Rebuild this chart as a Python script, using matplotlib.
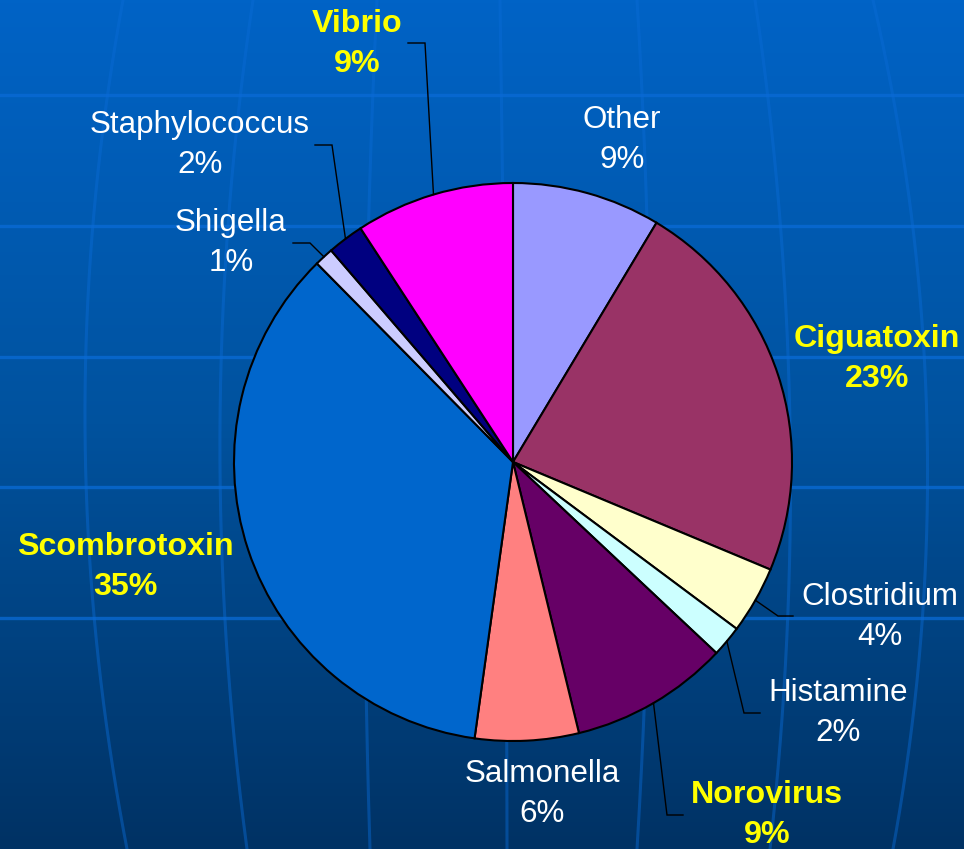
import numpy as np
import matplotlib
matplotlib.use("Agg")
import matplotlib.pyplot as plt
from matplotlib.colors import LinearSegmentedColormap

# ---- data ----
categories = ["Other", "Ciguatoxin", "Clostridium", "Histamine", "Norovirus",
              "Salmonella", "Scombrotoxin", "Shigella", "Staphylococcus", "Vibrio"]
share = [8.6, 22.7, 3.9, 1.8, 9.2, 6.0, 35.4, 1.1, 2.1, 9.2]
colors = ["#9999FF", "#993366", "#FFFFCC", "#CCFFFF", "#660066",
          "#FF8080", "#0066CC", "#CCCCFF", "#000080", "#FF00FF"]
highlight = [False, True, False, False, True, False, True, False, False, True]

# ---- layout (pixel coordinates, y downward) ----
W, H = 964, 849
cx, cy, R = 513, 462, 279
label_pos = {
    "Other": (622, 140), "Ciguatoxin": (877, 359), "Clostridium": (880, 617),
    "Histamine": (838, 713), "Norovirus": (767, 815), "Salmonella": (542, 794),
    "Scombrotoxin": (125, 567), "Shigella": (231, 243),
    "Staphylococcus": (200, 145), "Vibrio": (357, 44),
}
# leader: (text-side point, elbow point); end point is on the wedge edge
leaders = {
    "Vibrio": ((408, 43), (425, 43)),
    "Staphylococcus": ((315, 145), (332, 145)),
    "Shigella": ((293, 243), (310, 243)),
    "Clostridium": ((793, 616), (778, 616)),
    "Histamine": ((760, 713), (744, 713)),
    "Norovirus": ((683, 815), (667, 815)),
}

fig = plt.figure(figsize=(W / 100, H / 100), dpi=100)
ax = fig.add_axes([0, 0, 1, 1])

def fy(y):
    return H - np.asarray(y)

# background gradient (light at top, dark at bottom)
cmap = LinearSegmentedColormap.from_list("bg", ["#0063C6", "#00529E", "#003264"])
grad = np.linspace(0, 1, 256).reshape(-1, 1)
ax.imshow(grad, cmap=cmap, extent=[0, W, 0, H], aspect="auto", zorder=0,
          origin="upper")

# faint grid: horizontal lines
for yh in [95, 226, 357, 487, 618]:
    ax.plot([0, W], [fy(yh), fy(yh)], color="#0A6BD6", lw=2.4, alpha=0.75, zorder=1)
# meridians (top, middle, bottom x)
meridians = [(123, 85, 127), (253, 220, 247), (377, 365, 370), (500, 505, 507),
             (637, 650, 637), (755, 790, 770), (873, 927, 893)]
ys = np.linspace(0, H, 200)
for xt, xm, xb in meridians:
    coef = np.polyfit([0, 425, H], [xt, xm, xb], 2)
    ax.plot(np.polyval(coef, ys), fy(ys), color="#0A6BD6", lw=2.2, alpha=0.45, zorder=1)

# pie
wedges, _ = ax.pie(share, colors=colors, startangle=90, counterclock=False,
                   center=(cx, fy(cy)), radius=R, frame=True,
                   wedgeprops=dict(edgecolor="black", linewidth=1.5))
for w in wedges:
    w.set_zorder(3)
ax.set_xlim(0, W)
ax.set_ylim(0, H)
ax.set_aspect("equal")
ax.axis("off")

# labels
for i, name in enumerate(categories):
    x, y = label_pos[name]
    if highlight[i]:
        kw = dict(color="#FFFF00", fontweight="bold", fontsize=23.2)
    else:
        kw = dict(color="white", fontweight="normal", fontsize=22.6)
    ax.text(x, fy(y), f"{name}\n{round(share[i])}%", ha="center", va="center",
            family=["Liberation Sans", "DejaVu Sans"],
            linespacing=1.4, zorder=5, **kw)

# leader lines
for w, name in zip(wedges, categories):
    if name not in leaders:
        continue
    th = np.deg2rad((w.theta1 + w.theta2) / 2)
    ex = w.center[0] + w.r * np.cos(th)
    ey = w.center[1] + w.r * np.sin(th)
    (p0x, p0y), (p1x, p1y) = leaders[name]
    ax.plot([p0x, p1x, ex], [fy(p0y), fy(p1y), ey], color="black", lw=1.0,
            zorder=4, solid_joinstyle="miter")

fig.savefig("out.png", dpi=100)
